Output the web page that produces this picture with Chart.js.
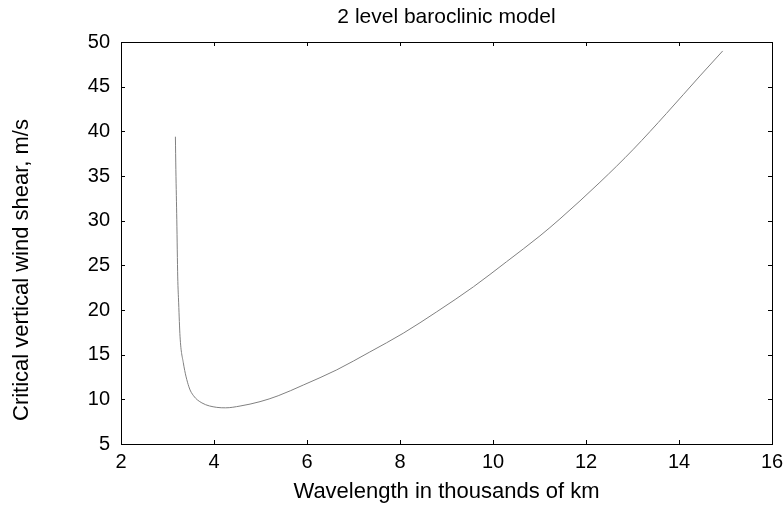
<!DOCTYPE html>
<html>
<head>
<meta charset="utf-8">
<script src="https://cdn.jsdelivr.net/npm/chart.js@4/dist/chart.umd.min.js"></script>
<style>
  html, body { margin: 0; padding: 0; background: #fff; }
  #wrap { width: 783px; height: 505px; position: relative; }
</style>
</head>
<body>
<div id="wrap"><canvas id="c"></canvas></div>
<script>
// Wavelength (thousands of km) and critical vertical wind shear (m/s)
const wavelength = [3.17, 3.18, 3.20, 3.22, 3.24, 3.27, 3.34, 3.46, 3.56, 3.74, 4.06, 4.25, 4.56, 4.99, 5.38, 5.92, 6.64, 7.35, 8.07, 8.79, 9.58, 10.29, 11.01, 11.44, 12.30, 13.02, 13.73, 14.45, 14.94];
const criticalShear = [39.4, 35.7, 30.1, 23.7, 20.8, 17.0, 14.1, 11.4, 10.4, 9.6, 9.1, 9.05, 9.25, 9.74, 10.4, 11.6, 13.3, 15.3, 17.4, 19.8, 22.6, 25.4, 28.3, 30.2, 34.3, 38.0, 42.0, 46.2, 49.0];
const xTicks = [2, 4, 6, 8, 10, 12, 14, 16];
const yTicks = [5, 10, 15, 20, 25, 30, 35, 40, 45, 50];
const chartTitle = '2 level baroclinic model';
const yTitle = 'Critical vertical wind shear, m/s';

const points = wavelength.map((x, i) => ({ x: x, y: criticalShear[i] }));
const FONT = "'Liberation Sans', Arial, Helvetica, sans-serif";

// Box around the plot area, inward-pointing tick marks on all four sides,
// the title centred over the plot area and the rotated y-axis caption
const boxTicks = {
  id: 'boxTicks',
  afterDraw(chart) {
    const { ctx, chartArea: a, scales } = chart;
    const len = 4;
    ctx.save();
    ctx.strokeStyle = '#000';
    ctx.lineWidth = 1;
    ctx.strokeRect(Math.round(a.left) + 0.5, Math.round(a.top) + 0.5,
                   Math.round(a.right - a.left), Math.round(a.bottom - a.top));
    ctx.beginPath();
    xTicks.forEach(v => {
      const px = Math.round(scales.x.getPixelForValue(v)) + 0.5;
      ctx.moveTo(px, a.bottom); ctx.lineTo(px, a.bottom - len);
      ctx.moveTo(px, a.top); ctx.lineTo(px, a.top + len);
    });
    yTicks.forEach(v => {
      const py = Math.round(scales.y.getPixelForValue(v)) + 0.5;
      ctx.moveTo(a.left, py); ctx.lineTo(a.left + len, py);
      ctx.moveTo(a.right, py); ctx.lineTo(a.right - len, py);
    });
    ctx.stroke();

    ctx.fillStyle = '#000';
    ctx.textAlign = 'center';
    ctx.textBaseline = 'middle';
    ctx.font = '21px ' + FONT;
    ctx.fillText(chartTitle, (a.left + a.right) / 2, 17);

    ctx.translate(22, 270);
    ctx.rotate(-Math.PI / 2);
    ctx.font = '22px ' + FONT;
    ctx.fillText(yTitle, 0, 0);
    ctx.restore();
  }
};

new Chart(document.getElementById('c'), {
  type: 'scatter',
  data: {
    datasets: [{
      data: points,
      showLine: true,
      borderColor: '#808080',
      borderWidth: 1,
      pointRadius: 0,
      cubicInterpolationMode: 'monotone',
      fill: false
    }]
  },
  options: {
    responsive: true,
    maintainAspectRatio: false,
    animation: false,
    layout: { padding: { left: 0, right: 0, top: 42, bottom: 0 } },
    plugins: {
      legend: { display: false },
      tooltip: { enabled: false },
      title: { display: false }
    },
    scales: {
      x: {
        type: 'linear',
        min: 2, max: 16,
        afterBuildTicks(s) { s.ticks = xTicks.map(v => ({ value: v })); },
        afterFit(s) { s.height = 61; s.paddingLeft = 0; s.paddingRight = 11; },
        grid: { display: false, drawTicks: false },
        border: { display: false },
        ticks: { color: '#000', padding: 6, maxRotation: 0,
                 font: { family: FONT, size: 20 } },
        title: {
          display: true,
          text: 'Wavelength in thousands of km',
          color: '#000',
          font: { family: FONT, size: 22, lineHeight: 1.2 },
          padding: { top: 0, bottom: 0 }
        }
      },
      y: {
        type: 'linear',
        min: 5, max: 50,
        afterBuildTicks(s) { s.ticks = yTicks.map(v => ({ value: v })); },
        afterFit(s) { s.width = 121; },
        grid: { display: false, drawTicks: false },
        border: { display: false },
        ticks: { color: '#000', padding: 11,
                 font: { family: FONT, size: 20 } }
      }
    }
  },
  plugins: [boxTicks]
});
</script>
</body>
</html>
